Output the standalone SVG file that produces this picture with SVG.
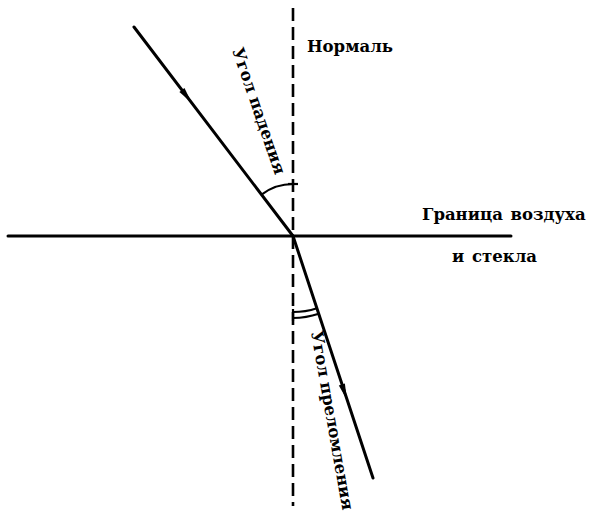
<svg xmlns="http://www.w3.org/2000/svg" width="590" height="520" viewBox="0 0 590 520">
<style>
.ray{stroke:#000;stroke-width:3;fill:none;stroke-linecap:round}
.normal{stroke:#000;stroke-width:2.6;fill:none;stroke-dasharray:13 6}
.arc{stroke:#000;stroke-width:2.2;fill:none}
.lbl{font-family:"DejaVu Serif","Liberation Serif",serif;font-weight:bold;font-size:16.5px;fill:#000}
.arrow{fill:#000}
</style>
<rect width="590" height="520" fill="#fff"/>
<g id="connectors">
<line id="normal" class="normal" x1="293" y1="8" x2="293" y2="506"/>
<line id="boundary" class="ray" x1="8" y1="236" x2="511" y2="236"/>
<line id="incident" class="ray" x1="134" y1="27" x2="293" y2="236"/>
<line id="refracted" class="ray" x1="293" y1="236" x2="373" y2="478"/>
<path class="arrow" transform="translate(188,98) rotate(52.7)" d="M6,0 L-10,-3.2 L-10,3.2 Z"/>
<path class="arrow" transform="translate(345,394) rotate(71.7)" d="M6,0 L-10,-3.2 L-10,3.2 Z"/>
</g>
<g id="angle-incidence">
<path class="arc" d="M261.5,194.6 A52,52 0 0 1 293,184"/>
<line class="arc" x1="288" y1="184" x2="298" y2="184"/>
</g>
<g id="angle-refraction">
<path class="arc" d="M293,312 A76,76 0 0 0 316.9,308.2"/>
<path class="arc" d="M293,318 A82,82 0 0 0 318.8,313.8"/>
<line class="arc" x1="293" y1="309" x2="293" y2="321"/>
</g>
<g id="label-normal"><text class="lbl" x="307" y="52">Нормаль</text></g>
<g id="label-boundary">
<text class="lbl" x="422" y="220" word-spacing="2">Граница воздуха</text>
<text class="lbl" x="452" y="262" word-spacing="2">и стекла</text>
</g>
<g id="label-incidence"><text class="lbl" font-size="17" transform="translate(232,50) rotate(71)">Угол падения</text></g>
<g id="label-refraction"><text class="lbl" transform="translate(311,332) rotate(80)">Угол преломления</text></g>
</svg>
